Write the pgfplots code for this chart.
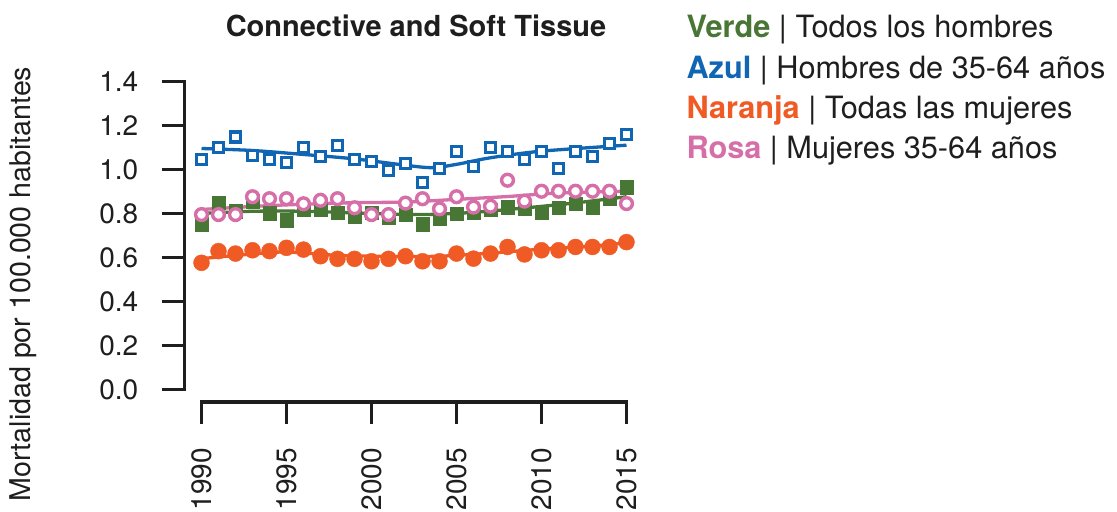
\documentclass[border=0pt]{standalone}
\usepackage{pgfplots}
\pgfplotsset{compat=1.18}
\usepackage{fontspec}
\setmainfont{TeX Gyre Heros}

\definecolor{verde}{RGB}{72,118,52}
\definecolor{azul}{RGB}{16,102,178}
\definecolor{naranja}{RGB}{240,90,36}
\definecolor{rosa}{RGB}{214,110,168}
\definecolor{ink}{RGB}{30,30,30}

\begin{document}
\begin{tikzpicture}
\path[use as bounding box] (0,0) rectangle (1117bp,-512bp);

\begin{axis}[
    at={(184.5bp,-402bp)}, anchor=south west,
    scale only axis, width=459bp, height=333bp,
    xmin=1989, xmax=2016, ymin=-0.056, ymax=1.456,
    clip=false,
    axis line style={draw=none},
    tick align=outside,
    major tick length=22bp,
    tick style={line width=3.1bp, color=ink},
    xtick pos=bottom, ytick pos=left,
    xtick={1990,1995,2000,2005,2010,2015},
    xticklabels={1990,1995,2000,2005,2010,2015},
    ytick={0,0.2,0.4,0.6,0.8,1.0,1.2,1.4},
    yticklabels={0.0,0.2,0.4,0.6,0.8,1.0,1.2,1.4},
    ticklabel style={font=\fontsize{28bp}{30bp}\selectfont, text=ink},
    xticklabel style={rotate=90, anchor=east, inner ysep=0pt, inner xsep=24bp},
    yticklabel style={anchor=east, inner ysep=0pt, inner xsep=24bp},
  ]
  % axis lines spanning only the tick range
  \draw[line width=3.1bp, ink, line cap=rect] (axis cs:1990,-0.056) -- (axis cs:2015,-0.056);
  \draw[line width=3.1bp, ink, line cap=rect] (axis cs:1989,0) -- (axis cs:1989,1.4);

  % Verde: todos los hombres
  \addplot[only marks, mark=square*, color=verde, mark size=6.8bp] coordinates {
    (1990,0.75) (1991,0.849) (1992,0.81) (1993,0.856) (1994,0.80) (1995,0.77)
    (1996,0.818) (1997,0.82) (1998,0.803) (1999,0.785) (2000,0.803) (2001,0.78)
    (2002,0.795) (2003,0.75) (2004,0.776) (2005,0.799) (2006,0.803) (2007,0.818)
    (2008,0.829) (2009,0.821) (2010,0.803) (2011,0.826) (2012,0.845) (2013,0.826)
    (2014,0.867) (2015,0.92)
  };
  % Rosa: mujeres 35-64
  \addplot[only marks, mark=*, color=rosa, mark size=5.9bp,
    mark options={line width=3.4bp, fill=white}] coordinates {
    (1990,0.795) (1991,0.795) (1992,0.795) (1993,0.876) (1994,0.867) (1995,0.867)
    (1996,0.844) (1997,0.86) (1998,0.867) (1999,0.826) (2000,0.795) (2001,0.795)
    (2002,0.847) (2003,0.867) (2004,0.821) (2005,0.876) (2006,0.829) (2007,0.833)
    (2008,0.951) (2009,0.856) (2010,0.901) (2011,0.901) (2012,0.901) (2013,0.901)
    (2014,0.901) (2015,0.845)
  };
  % Azul: hombres 35-64
  \addplot[only marks, mark=square*, color=azul, mark size=5bp,
    mark options={line width=3.2bp, fill=white}] coordinates {
    (1990,1.045) (1991,1.098) (1992,1.147) (1993,1.065) (1994,1.045) (1995,1.03)
    (1996,1.098) (1997,1.058) (1998,1.109) (1999,1.045) (2000,1.035) (2001,0.995)
    (2002,1.028) (2003,0.94) (2004,1.005) (2005,1.08) (2006,1.015) (2007,1.098)
    (2008,1.08) (2009,1.045) (2010,1.08) (2011,1.005) (2012,1.08) (2013,1.058)
    (2014,1.118) (2015,1.159)
  };
  % Naranja: todas las mujeres
  \addplot[only marks, mark=*, color=naranja, mark size=8bp] coordinates {
    (1990,0.576) (1991,0.629) (1992,0.618) (1993,0.633) (1994,0.629) (1995,0.644)
    (1996,0.636) (1997,0.606) (1998,0.594) (1999,0.594) (2000,0.583) (2001,0.594)
    (2002,0.606) (2003,0.583) (2004,0.583) (2005,0.618) (2006,0.595) (2007,0.618)
    (2008,0.648) (2009,0.614) (2010,0.633) (2011,0.633) (2012,0.648) (2013,0.648)
    (2014,0.648) (2015,0.67)
  };

  % smoothed trends
  \addplot[smooth, no marks, line width=3.3bp, color=verde] coordinates {
    (1990,0.80) (1993,0.81) (1996,0.81) (2000,0.80) (2003,0.795) (2006,0.805)
    (2009,0.825) (2012,0.848) (2015,0.876)
  };
  \addplot[smooth, no marks, line width=3.3bp, color=rosa] coordinates {
    (1990,0.818) (1993,0.832) (1996,0.842) (1999,0.849) (2002,0.852) (2005,0.864)
    (2008,0.877) (2011,0.893) (2015,0.901)
  };
  \addplot[smooth, no marks, line width=3.3bp, color=azul] coordinates {
    (1990,1.095) (1993,1.086) (1996,1.068) (1999,1.048) (2001.6,1.023) (2003.5,1.008)
    (2005,1.023) (2007,1.053) (2010,1.083) (2015,1.11)
  };
  \addplot[smooth, no marks, line width=3.3bp, color=naranja] coordinates {
    (1990,0.595) (1993,0.616) (1995,0.625) (1998,0.61) (2001,0.605) (2004,0.606)
    (2007,0.62) (2010,0.638) (2013,0.652) (2015,0.667)
  };
\end{axis}

% title, axis label and legend text
\node[anchor=base, font=\fontsize{29bp}{32bp}\selectfont\bfseries, text=ink]
  at (416bp,-36bp) {Connective and Soft Tissue};
\node[anchor=base, rotate=90, font=\fontsize{28.6bp}{32bp}\selectfont, text=ink]
  at (30bp,-284bp) {Mortalidad por 100.000 habitantes};
\begin{scope}[every node/.style={anchor=base west, font=\fontsize{30.7bp}{34bp}\selectfont, text=ink}]
  \node at (683bp,-37bp) {\textcolor{verde}{\bfseries Verde} | Todos los hombres};
  \node at (683bp,-78bp) {\textcolor{azul}{\bfseries Azul} | Hombres de 35-64 años};
  \node at (683bp,-118bp) {\textcolor{naranja}{\bfseries Naranja} | Todas las mujeres};
  \node at (683bp,-158bp) {\textcolor{rosa}{\bfseries Rosa} | Mujeres 35-64 años};
\end{scope}
\end{tikzpicture}
\end{document}
